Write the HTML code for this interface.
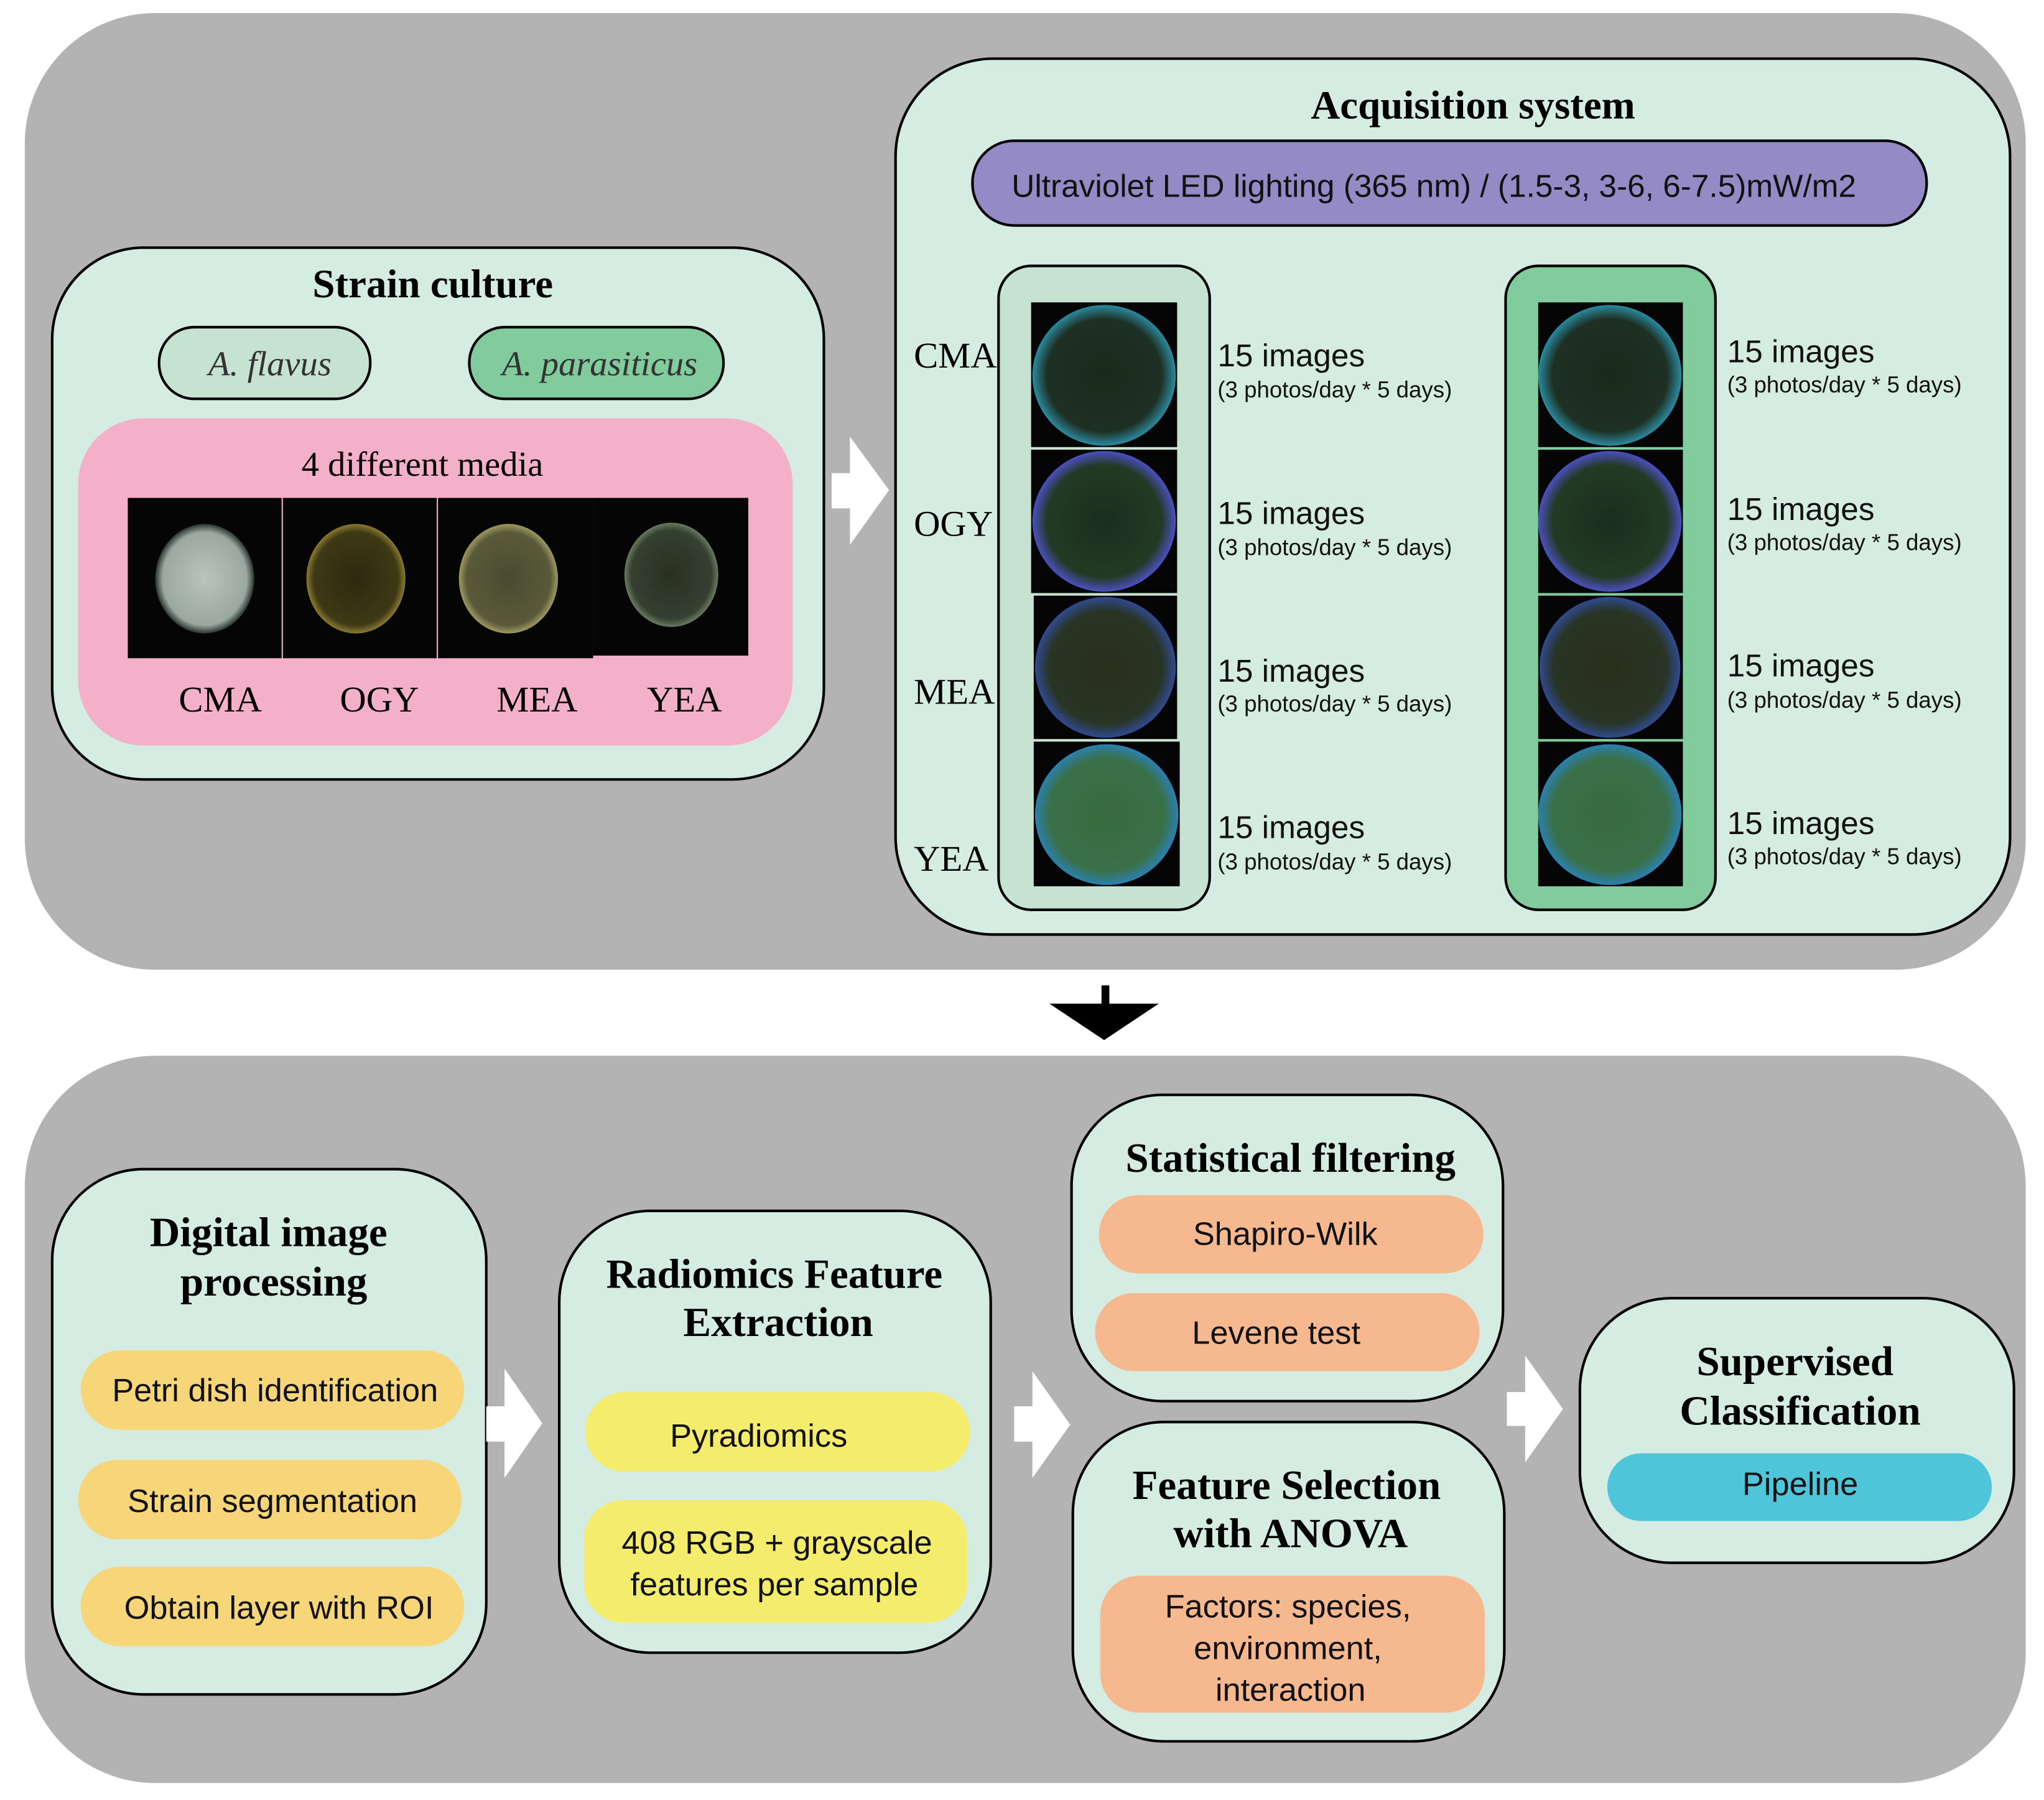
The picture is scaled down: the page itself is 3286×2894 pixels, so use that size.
<!DOCTYPE html>
<html><head><meta charset="utf-8"><style>html,body{margin:0;padding:0;background:#fff}svg{display:block}</style></head>
<body>
<svg xmlns="http://www.w3.org/2000/svg" width="3286" height="2894" viewBox="0 0 1568 1381">
<defs>
<radialGradient id="pd1" cx="50%" cy="50%" r="50%"><stop offset="0" stop-color="#b8c4bc"/><stop offset="0.85" stop-color="#9aa8a0"/><stop offset="1" stop-color="#2a3430"/></radialGradient>
<radialGradient id="pd2" cx="50%" cy="50%" r="50%"><stop offset="0" stop-color="#2e2a10"/><stop offset="0.85" stop-color="#3e3814"/><stop offset="1" stop-color="#8a7a30"/></radialGradient>
<radialGradient id="pd3" cx="50%" cy="50%" r="50%"><stop offset="0" stop-color="#4a4a30"/><stop offset="0.85" stop-color="#5a5a3a"/><stop offset="1" stop-color="#a09a60"/></radialGradient>
<radialGradient id="pd4" cx="50%" cy="50%" r="50%"><stop offset="0" stop-color="#2a3020"/><stop offset="0.85" stop-color="#344030"/><stop offset="1" stop-color="#6a7a60"/></radialGradient>
<radialGradient id="uv1" cx="50%" cy="50%" r="50%"><stop offset="0" stop-color="#1a2a1a"/><stop offset="0.8" stop-color="#1e3024"/><stop offset="1" stop-color="#2a8aa0"/></radialGradient>
<radialGradient id="uv2" cx="50%" cy="50%" r="50%"><stop offset="0" stop-color="#1c2e1c"/><stop offset="0.8" stop-color="#223a24"/><stop offset="1" stop-color="#4a50c0"/></radialGradient>
<radialGradient id="uv3" cx="50%" cy="50%" r="50%"><stop offset="0" stop-color="#2a2e1c"/><stop offset="0.8" stop-color="#283424"/><stop offset="1" stop-color="#304a90"/></radialGradient>
<radialGradient id="uv4" cx="50%" cy="50%" r="50%"><stop offset="0" stop-color="#3a6a40"/><stop offset="0.8" stop-color="#3a7048"/><stop offset="1" stop-color="#2a80b0"/></radialGradient>
</defs>
<g font-family="'Liberation Sans', sans-serif">
<rect x="19" y="10" width="1535" height="734" rx="100" fill="#b3b3b3"/>
<rect x="40" y="190" width="592" height="408" rx="70" fill="#d5ece3" stroke="#000" stroke-width="2"/>
<text x="332" y="228" font-family="'Liberation Serif', serif" font-weight="bold" font-size="31" text-anchor="middle">Strain culture</text>
<rect x="122" y="251" width="162" height="55" rx="27" fill="#c5e3d0" stroke="#000" stroke-width="2"/>
<text x="207" y="288" font-family="'Liberation Serif', serif" font-style="italic" font-size="27" text-anchor="middle" fill="#333">A. flavus</text>
<rect x="360" y="251" width="195" height="55" rx="27" fill="#82cb9c" stroke="#000" stroke-width="2"/>
<text x="460" y="288" font-family="'Liberation Serif', serif" font-style="italic" font-size="27" text-anchor="middle" fill="#333">A. parasiticus</text>
<rect x="60" y="321" width="548" height="251" rx="50" fill="#f4afc9"/>
<text x="324" y="365" font-family="'Liberation Serif', serif" font-size="27" text-anchor="middle">4 different media</text>
<rect x="98" y="382" width="118" height="123" fill="#050505"/>
<ellipse cx="157" cy="444" rx="38" ry="42" fill="url(#pd1)"/>
<rect x="217" y="382" width="118" height="123" fill="#050505"/>
<ellipse cx="273" cy="444" rx="38" ry="42" fill="url(#pd2)"/>
<rect x="336" y="382" width="119" height="123" fill="#050505"/>
<ellipse cx="390" cy="444" rx="38" ry="42" fill="url(#pd3)"/>
<rect x="455" y="382" width="119" height="121" fill="#050505"/>
<ellipse cx="515" cy="441" rx="36" ry="40" fill="url(#pd4)"/>
<g font-family="'Liberation Serif', serif" font-size="28" text-anchor="middle">
<text x="169" y="546">CMA</text><text x="291" y="546">OGY</text><text x="412" y="546">MEA</text><text x="525" y="546">YEA</text>
</g>
<polygon points="638,363 652,363 652,335 682,376 652,418 652,390 638,390" fill="#fff"/>
<rect x="687" y="45" width="855" height="672" rx="75" fill="#d5ece3" stroke="#000" stroke-width="2"/>
<text x="1130" y="91" font-family="'Liberation Serif', serif" font-weight="bold" font-size="31" text-anchor="middle">Acquisition system</text>
<rect x="746" y="108" width="732" height="65" rx="32" fill="#948ac6" stroke="#000" stroke-width="2"/>
<text x="1100" y="151" font-size="24.5" text-anchor="middle" fill="#111">Ultraviolet LED lighting (365 nm) / (1.5-3, 3-6, 6-7.5)mW/m2</text>
<rect x="766" y="204" width="162" height="494" rx="25" fill="#c5e3d0" stroke="#000" stroke-width="2"/>
<rect x="1155" y="204" width="161" height="494" rx="25" fill="#82cb9c" stroke="#000" stroke-width="2"/>
<g>
<rect x="791" y="232" width="112" height="111" fill="#050505"/><ellipse cx="847" cy="288" rx="55" ry="54" fill="url(#uv1)"/>
<rect x="791" y="345" width="112" height="110" fill="#050505"/><ellipse cx="847" cy="400" rx="55" ry="54" fill="url(#uv2)"/>
<rect x="793" y="457" width="110" height="110" fill="#050505"/><ellipse cx="848" cy="512" rx="54" ry="54" fill="url(#uv3)"/>
<rect x="793" y="569" width="112" height="111" fill="#050505"/><ellipse cx="849" cy="625" rx="55" ry="54" fill="url(#uv4)"/>
<rect x="1180" y="232" width="111" height="111" fill="#050505"/><ellipse cx="1235" cy="288" rx="55" ry="54" fill="url(#uv1)"/>
<rect x="1180" y="345" width="111" height="110" fill="#050505"/><ellipse cx="1235" cy="400" rx="55" ry="54" fill="url(#uv2)"/>
<rect x="1180" y="457" width="111" height="110" fill="#050505"/><ellipse cx="1235" cy="512" rx="54" ry="54" fill="url(#uv3)"/>
<rect x="1180" y="569" width="111" height="111" fill="#050505"/><ellipse cx="1235" cy="625" rx="55" ry="54" fill="url(#uv4)"/>
</g>
<g font-family="'Liberation Serif', serif" font-size="28">
<text x="701" y="282">CMA</text><text x="701" y="411">OGY</text><text x="701" y="540">MEA</text><text x="701" y="668">YEA</text>
</g>
<g font-size="24.5" fill="#111">
<text x="934" y="281">15 images</text><text x="934" y="402">15 images</text><text x="934" y="523">15 images</text><text x="934" y="643">15 images</text>
<text x="1325" y="278">15 images</text><text x="1325" y="399">15 images</text><text x="1325" y="519">15 images</text><text x="1325" y="640">15 images</text>
</g>
<g font-size="17.5" fill="#111">
<text x="934" y="305">(3 photos/day * 5 days)</text><text x="934" y="426">(3 photos/day * 5 days)</text><text x="934" y="546">(3 photos/day * 5 days)</text><text x="934" y="667">(3 photos/day * 5 days)</text>
<text x="1325" y="301">(3 photos/day * 5 days)</text><text x="1325" y="422">(3 photos/day * 5 days)</text><text x="1325" y="543">(3 photos/day * 5 days)</text><text x="1325" y="663">(3 photos/day * 5 days)</text>
</g>
<rect x="845" y="756" width="6" height="16" fill="#000"/>
<polygon points="805,770 889,770 847,798" fill="#000"/>
<rect x="19" y="810" width="1535" height="558" rx="100" fill="#b3b3b3"/>
<g font-family="'Liberation Serif', serif" font-weight="bold" font-size="32" text-anchor="middle">
<rect x="40" y="897" width="333" height="403" rx="70" fill="#d5ece3" stroke="#000" stroke-width="2"/>
<text x="206" y="956">Digital image</text><text x="210" y="994">processing</text>
<rect x="429" y="929" width="331" height="339" rx="70" fill="#d5ece3" stroke="#000" stroke-width="2"/>
<text x="594" y="988">Radiomics Feature</text><text x="597" y="1025">Extraction</text>
<rect x="822" y="840" width="331" height="235" rx="70" fill="#d5ece3" stroke="#000" stroke-width="2"/>
<text x="990" y="899">Statistical filtering</text>
<rect x="823" y="1091" width="331" height="245" rx="70" fill="#d5ece3" stroke="#000" stroke-width="2"/>
<text x="987" y="1150">Feature Selection</text><text x="990" y="1187">with ANOVA</text>
<rect x="1212" y="996" width="333" height="203" rx="70" fill="#d5ece3" stroke="#000" stroke-width="2"/>
<text x="1377" y="1055">Supervised</text><text x="1381" y="1093">Classification</text>
</g>
<g font-size="25" text-anchor="middle" fill="#111">
<rect x="62" y="1036" width="294" height="61" rx="30" fill="#f7d67a"/><text x="211" y="1075">Petri dish identification</text>
<rect x="60" y="1120" width="294" height="61" rx="30" fill="#f7d67a"/><text x="209" y="1160">Strain segmentation</text>
<rect x="62" y="1202" width="294" height="61" rx="30" fill="#f7d67a"/><text x="214" y="1242">Obtain layer with ROI</text>
<rect x="449" y="1068" width="295" height="61" rx="30" fill="#f4ec6c"/><text x="582" y="1110">Pyradiomics</text>
<rect x="448" y="1151" width="294" height="94" rx="30" fill="#f4ec6c"/><text x="596" y="1192">408 RGB + grayscale</text><text x="594" y="1224">features per sample</text>
<rect x="843" y="917" width="295" height="60" rx="30" fill="#f6b98f"/><text x="986" y="955">Shapiro-Wilk</text>
<rect x="840" y="992" width="295" height="60" rx="30" fill="#f6b98f"/><text x="979" y="1031">Levene test</text>
<rect x="844" y="1209" width="295" height="105" rx="30" fill="#f6b98f"/><text x="988" y="1241">Factors: species,</text><text x="988" y="1273">environment,</text><text x="990" y="1305">interaction</text>
<rect x="1233" y="1115" width="295" height="52" rx="26" fill="#4fc5da"/><text x="1381" y="1147">Pipeline</text>
</g>
<polygon points="373,1079 387,1079 387,1050 416,1092 387,1134 387,1106 373,1106" fill="#fff"/>
<polygon points="778,1079 792,1079 792,1052 821,1093 792,1134 792,1106 778,1106" fill="#fff"/>
<polygon points="1156,1068 1170,1068 1170,1040 1199,1081 1170,1122 1170,1094 1156,1094" fill="#fff"/>
</g>
</svg>
</body></html>
